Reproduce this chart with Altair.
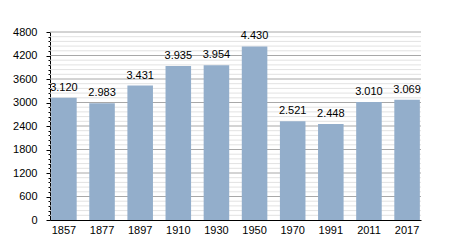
import altair as alt
import pandas as pd

years = ["1857", "1877", "1897", "1910", "1930", "1950", "1970", "1991", "2011", "2017"]
population = [3120, 2983, 3431, 3935, 3954, 4430, 2521, 2448, 3010, 3069]
major_values = [600, 1200, 1800, 2400, 3000, 3600, 4200, 4800]
minor_values = [v for v in range(120, 4800, 120) if v % 600 != 0]
tick_values = list(range(0, 4801, 120))

df = pd.DataFrame({"year": years, "pop": population})
major_df = pd.DataFrame({"v": major_values})
minor_df = pd.DataFrame({"v": minor_values})

FONT = "Liberation Sans"
BAR = "#93aecb"

yscale = alt.Scale(domain=[0, 4800], nice=False)

yaxis = alt.Axis(values=tick_values, format="d",
                 labelExpr="(datum.value % 600) == 0 ? datum.label : ''",
                 labelOverlap=False,
                 grid=False,
                 tickSize={"condition": {"test": "(datum.value % 600) == 0", "value": 4}, "value": 2},
                 tickColor="#000000",
                 domainColor="#000000",
                 labelFont=FONT, labelFontSize=11, labelColor="#000000",
                 labelPadding=9)

x = alt.X("year:N", sort=None, title=None,
          scale=alt.Scale(paddingInner=0.33, paddingOuter=0.03),
          axis=alt.Axis(labelAngle=0, ticks=False, domainColor="#000000",
                        labelFont=FONT, labelFontSize=11, labelColor="#000000",
                        labelPadding=4))

minor = alt.Chart(minor_df).mark_rule(color="#e2e2e2", strokeWidth=1).encode(
    y=alt.Y("v:Q", scale=yscale, title=None, axis=yaxis))
major = alt.Chart(major_df).mark_rule(color="#a8a8a8", strokeWidth=1).encode(
    y=alt.Y("v:Q", scale=yscale, title=None, axis=yaxis))

bars = alt.Chart(df).mark_bar(color=BAR).encode(
    x=x, y=alt.Y("pop:Q", scale=yscale, title=None, axis=yaxis))

labels = alt.Chart(df).transform_calculate(
    lbl="replace(format(datum.pop, ','), ',', '.')"
).mark_text(font=FONT, fontSize=11, color="#000000", baseline="bottom", dy=-5).encode(
    x=alt.X("year:N", sort=None, title=None),
    y=alt.Y("pop:Q", scale=yscale, title=None, axis=yaxis),
    text="lbl:N",
)

chart = alt.layer(minor, major, bars, labels).properties(
    width=371, height=188,
    autosize=alt.AutoSizeParams(type="none"),
    padding={"left": 50, "top": 32, "right": 29, "bottom": 30},
    background="#ffffff",
).configure_view(stroke=None)

chart.save("out.html", embed_options={"renderer": "svg", "actions": False})
